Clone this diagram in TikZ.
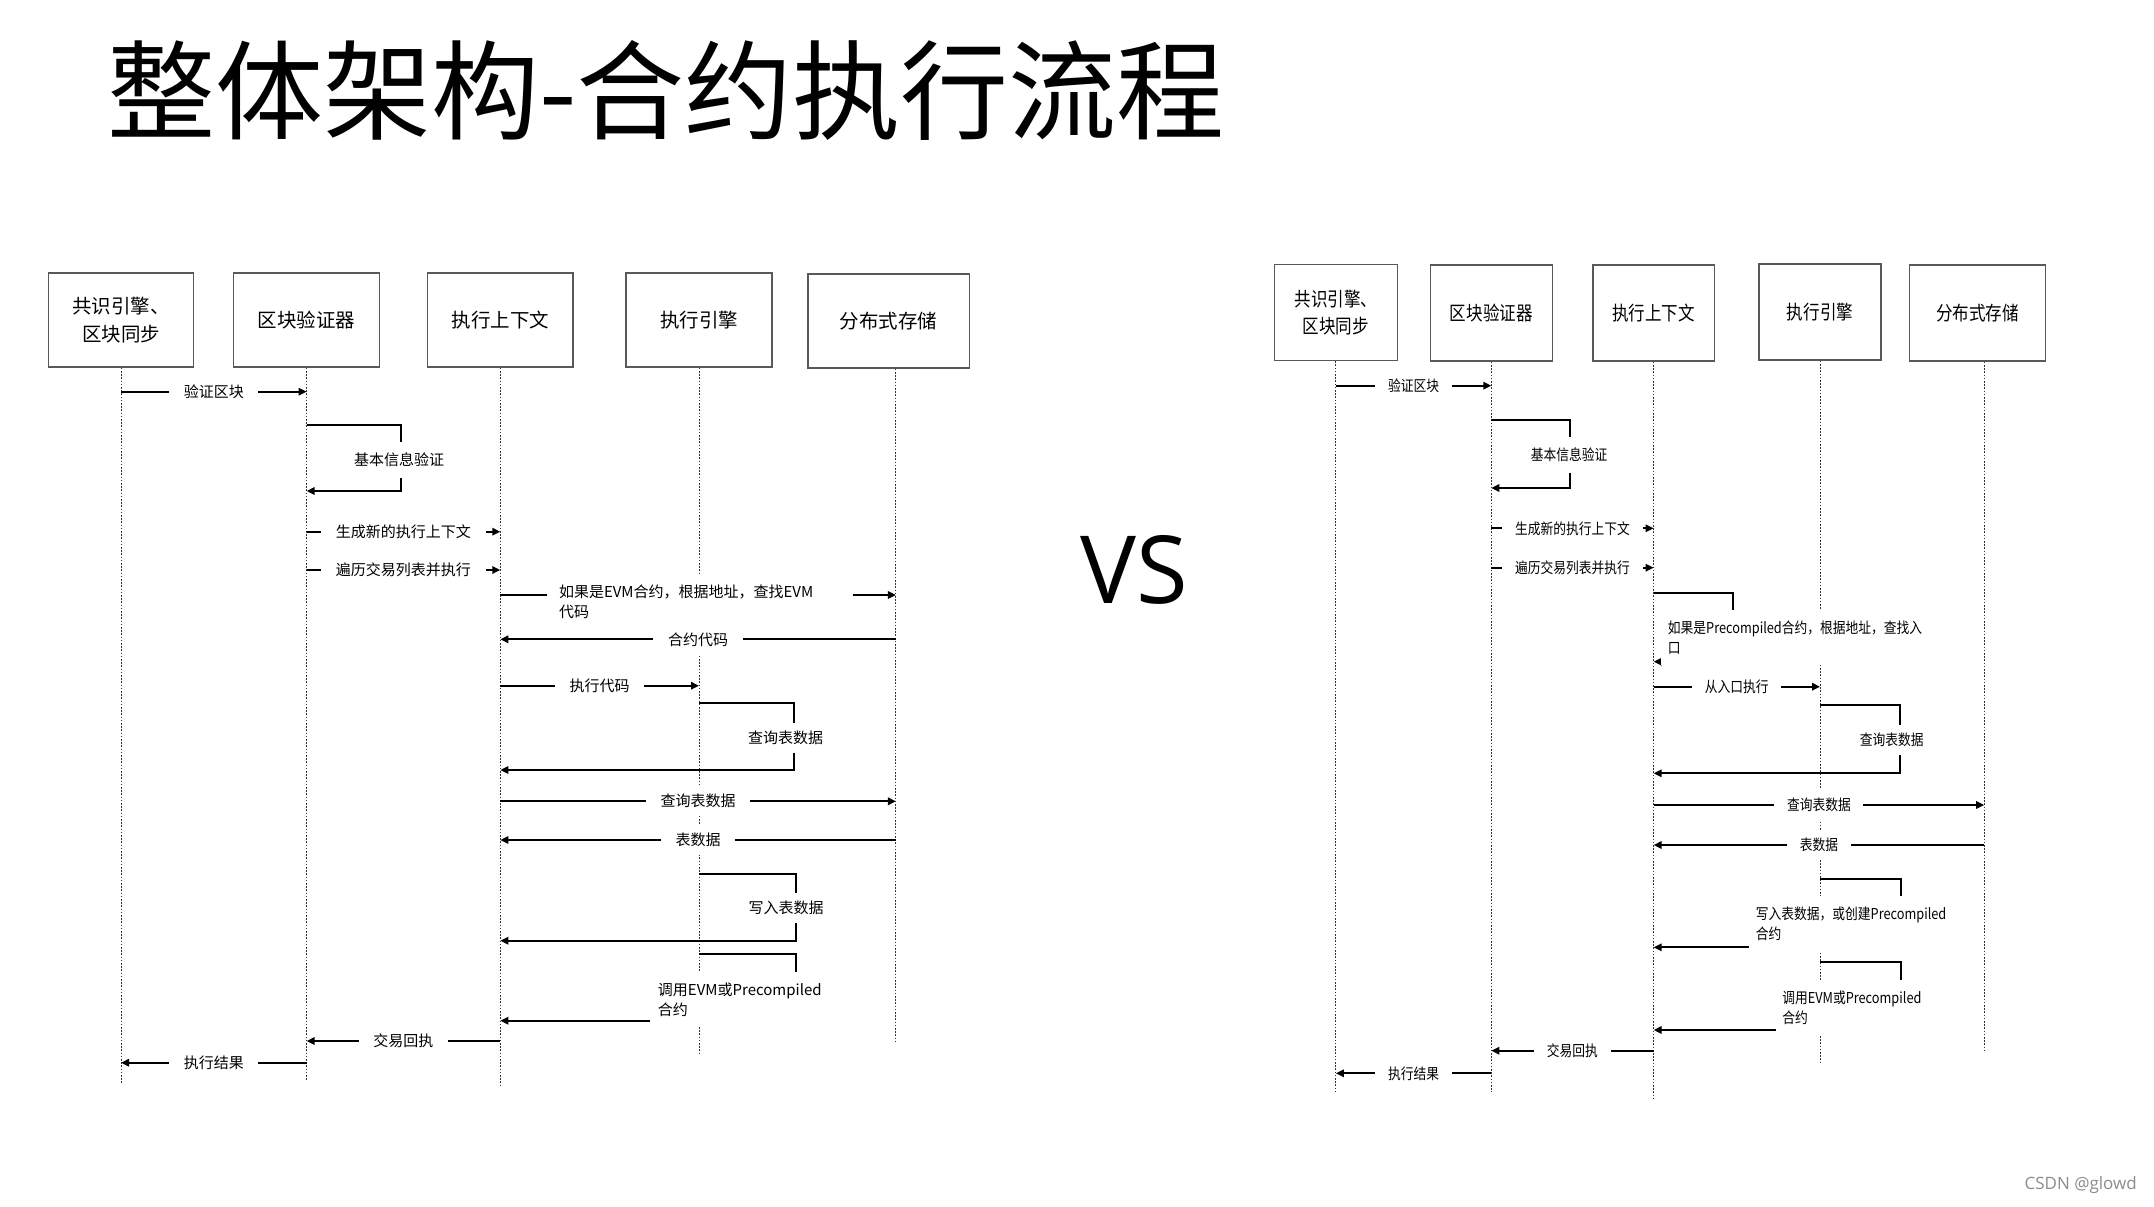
\documentclass[tikz,border=0pt]{standalone}
\usepackage{fontspec}
\setmainfont{Open Sans}
\newfontfamily\cjk{Noto Sans CJK SC}
\newfontfamily\cjknarrow[FakeStretch=0.85]{Noto Sans CJK SC}
\usepackage{tikz}
\usetikzlibrary{arrows.meta}

\begin{document}
\begin{tikzpicture}[x=0.75pt,y=0.75pt,yscale=-1,xscale=1,
  actorbox/.style={draw=black!65, line width=1.1pt, fill=white, align=center, minimum height=70.5pt, font=\cjk\fontsize{14.6}{21}\selectfont},
  actorboxR/.style={actorbox, minimum height=72pt, font=\cjknarrow\fontsize{14.6}{20.5}\selectfont},
  lifeline/.style={black!80, line width=0.7pt, dash pattern=on 1.2pt off 1.2pt},
  msgline/.style={line width=1.5pt, -{Triangle[length=6pt,width=5.5pt]}},
  msglabel/.style={fill=white, inner xsep=11pt, inner ysep=6pt, font=\cjk\fontsize{11.25}{15}\selectfont},
  msglabelR/.style={msglabel, inner xsep=9.5pt, font=\cjknarrow\fontsize{11.25}{15}\selectfont},
  notebox/.style={fill=white, align=left, anchor=west, inner xsep=6pt, inner ysep=8pt, font=\cjk\fontsize{11.25}{15}\selectfont},
  noteboxR/.style={notebox, inner xsep=5pt, font=\cjknarrow\fontsize{11.25}{15}\selectfont}]
\useasboundingbox (0,0) rectangle (2154,1206);
\fill[white] (0,0) rectangle (2154,1206);

% Text Node
\node[anchor=west, inner sep=0pt, font=\cjk\fontsize{81}{90}\selectfont] (title) at (107,90) {整体架构-合约执行流程};
% Text Node
\node[font=\fontsize{70.5}{80}\selectfont] (vs) at (1134.5,569.5) {VS};
% Text Node
\node[anchor=base east, inner sep=0pt, text=black!45, font=\fontsize{12.75}{15}\selectfont] (mark) at (2137,1189) {CSDN @glowd};

%Shape: Rectangle (left)
\node[actorbox, minimum width=109pt] (ce) at (121,320) {共识引擎、\\区块同步};
\node[actorbox, minimum width=109.5pt] (bv) at (306.6,320) {区块验证器};
\node[actorbox, minimum width=109pt] (ec) at (500.3,320) {执行上下文};
\node[actorbox, minimum width=109.5pt] (ee) at (699,320) {执行引擎};
\node[actorbox, minimum width=121pt] (ds) at (888.6,321) {分布式存储};
\coordinate (dsl) at ([xshift=5.5pt]ds.south);

%Dotted Lines
\draw[lifeline] (ce.south) -- (ce |- 0,1083);
\draw[lifeline] (bv.south) -- (bv |- 0,1080);
\draw[lifeline] (ec.south) -- (ec |- 0,1086.7);
\draw[lifeline] (ee.south) -- (ee |- 0,1053);
\draw[lifeline] (dsl) -- (dsl |- 0,1041.7);

%Straight Lines
\draw[msgline] (ce |- 0,391.7) -- (bv |- 0,391.7) node[msglabel, midway] (l1) {验证区块};
\draw[msgline] (bv |- 0,425) -| (400.5,491) -- (bv |- 0,491);
\node[msglabel, inner ysep=8pt] (l2) at (399,460) {基本信息验证};
\draw[msgline] (bv |- 0,531.7) -- (ec |- 0,531.7) node[msglabel, midway] (l3) {生成新的执行上下文};
\draw[msgline] (bv |- 0,570) -- (ec |- 0,570) node[msglabel, midway] (l4) {遍历交易列表并执行};
\draw[msgline] (ec |- 0,595) -- (dsl |- 0,595);
\node[msglabel, text width=211.5pt, align=left, inner xsep=9pt, inner ysep=7pt] (l5) at (700,601.7) {如果是EVM合约，根据地址，查找EVM\\代码};
\draw[msgline] (dsl |- 0,639.3) -- (ec |- 0,639.3) node[msglabel, midway] (l6) {合约代码};
\draw[msgline] (ec |- 0,685.7) -- (ee |- 0,685.7) node[msglabel, midway] (l7) {执行代码};
\draw[msgline] (ee |- 0,702.7) -| (794,770) -- (ec |- 0,770);
\node[msglabel] (l8) at (785.7,737.7) {查询表数据};
\draw[msgline] (ec |- 0,801.3) -- (dsl |- 0,801.3) node[msglabel, midway] (l9) {查询表数据};
\draw[msgline] (dsl |- 0,840) -- (ec |- 0,840) node[msglabel, midway] (l10) {表数据};
\draw[msgline] (ee |- 0,874) -| (795.5,940.7) -- (ec |- 0,940.7);
\node[msglabel] (l11) at (786,908.3) {写入表数据};
\draw[msgline] (ee |- 0,954) -| (795.5,1020.7) -- (ec |- 0,1020.7);
\node[notebox] (l12) at (649.7,999.7) {调用EVM或Precompiled\\合约};
\draw[msgline] (ec |- 0,1041) -- (bv |- 0,1041) node[msglabel, midway] (l13) {交易回执};
\draw[msgline] (bv |- 0,1062.7) -- (ce |- 0,1062.7) node[msglabel, midway] (l14) {执行结果};

%Shape: Rectangle (right)
\node[actorboxR, minimum width=92.25pt] (ce2) at (1335.9,312.5) {共识引擎、\\区块同步};
\node[actorboxR, minimum width=91.5pt] (bv2) at (1491.3,313) {区块验证器};
\node[actorboxR, minimum width=91.2pt] (ec2) at (1653.6,313) {执行上下文};
\node[actorboxR, minimum width=91.5pt] (ee2) at (1820,312) {执行引擎};
\node[actorboxR, minimum width=102pt] (ds2) at (1977.5,313) {分布式存储};
\coordinate (dsl2) at ([xshift=5pt]ds2.south);

%Dotted Lines
\draw[lifeline] (ce2.south) -- (ce2 |- 0,1093);
\draw[lifeline] (bv2.south) -- (bv2 |- 0,1091.7);
\draw[lifeline] (ec2.south) -- (ec2 |- 0,1098);
\draw[lifeline] (ee2.south) -- (ee2 |- 0,1063);
\draw[lifeline] (dsl2) -- (dsl2 |- 0,1050.7);

%Straight Lines
\draw[msgline] (ce2 |- 0,385.7) -- (bv2 |- 0,385.7) node[msglabelR, midway] (r1) {验证区块};
\draw[msgline] (bv2 |- 0,420) -| (1569.7,488) -- (bv2 |- 0,488);
\node[msglabelR, inner ysep=8pt] (r2) at (1569,455) {基本信息验证};
\draw[msgline] (bv2 |- 0,528.3) -- (ec2 |- 0,528.3) node[msglabelR, midway] (r3) {生成新的执行上下文};
\draw[msgline] (bv2 |- 0,567.7) -- (ec2 |- 0,567.7) node[msglabelR, midway] (r4) {遍历交易列表并执行};
\draw[msgline] (ec2 |- 0,592.7) -| (1732.8,661.7) -- (ec2 |- 0,661.7);
\node[noteboxR] (r5) at (1661,637.7) {如果是Precompiled合约，根据地址，查找入\\口};
\draw[msgline] (ec2 |- 0,686.7) -- (ee2 |- 0,686.7) node[msglabelR, midway] (r6) {从入口执行};
\draw[msgline] (ee2 |- 0,705) -| (1899.5,773.3) -- (ec2 |- 0,773.3);
\node[msglabelR] (r7) at (1891.8,740) {查询表数据};
\draw[msgline] (ec2 |- 0,805) -- (dsl2 |- 0,805) node[msglabelR, midway] (r8) {查询表数据};
\draw[msgline] (dsl2 |- 0,845) -- (ec2 |- 0,845) node[msglabelR, midway] (r9) {表数据};
\draw[msgline] (ee2 |- 0,879.3) -| (1900.5,947.3) -- (ec2 |- 0,947.3);
\node[noteboxR] (r10) at (1749,923.3) {写入表数据，或创建Precompiled\\合约};
\draw[msgline] (ee2 |- 0,961.7) -| (1900.5,1030) -- (ec2 |- 0,1030);
\node[noteboxR] (r11) at (1775.4,1008) {调用EVM或Precompiled\\合约};
\draw[msgline] (ec2 |- 0,1050.7) -- (bv2 |- 0,1050.7) node[msglabelR, midway] (r12) {交易回执};
\draw[msgline] (bv2 |- 0,1073.3) -- (ce2 |- 0,1073.3) node[msglabelR, midway] (r13) {执行结果};

\end{tikzpicture}
\end{document}
